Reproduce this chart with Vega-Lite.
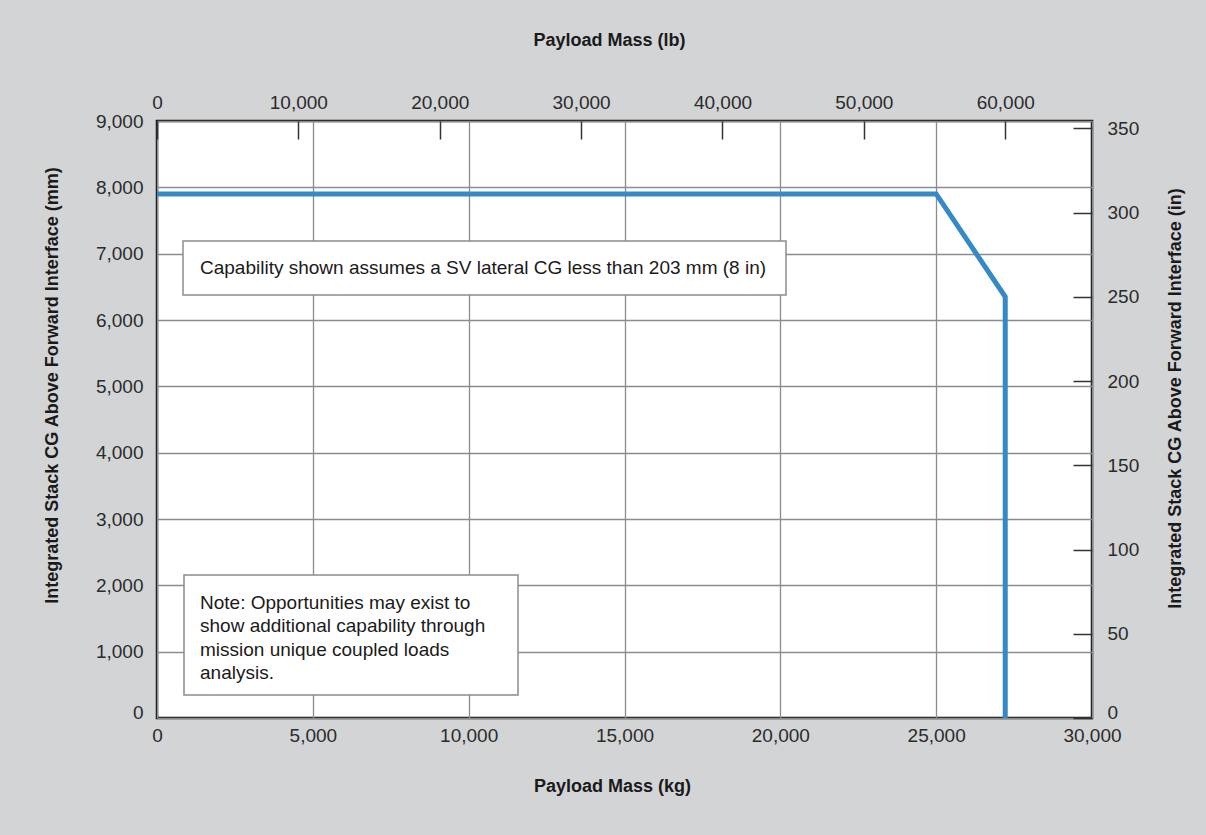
{
  "$schema": "https://vega.github.io/schema/vega-lite/v6.json",
  "width": 935,
  "height": 597,
  "autosize": {"type": "none"},
  "padding": {"left": 157, "top": 121, "right": 114, "bottom": 117},
  "background": "#d3d4d6",
  "config": {
    "font": "Liberation Sans",
    "view": {"fill": "white", "stroke": "#111111", "strokeWidth": 2.5},
    "axis": {
      "labelFontSize": 19,
      "labelColor": "#2b2b2b",
      "labelFlush": false,
      "labelOverlap": false,
      "titleFontSize": 18,
      "titleFontWeight": "bold",
      "titleColor": "#1a1a1a",
      "gridColor": "#8c8c8c",
      "gridWidth": 1.3,
      "gridOpacity": 1
    }
  },
  "datasets": {
    "limit": [
      {"kg": 0, "mm": 7900},
      {"kg": 25000, "mm": 7900},
      {"kg": 27216, "mm": 6350},
      {"kg": 27216, "mm": 0}
    ],
    "notes": [
      {"id": "lateral", "text": "Capability shown assumes a SV lateral CG less than 203 mm (8 in)"},
      {"id": "coupled", "text": "Note: Opportunities may exist to\nshow additional capability through\nmission unique coupled loads\nanalysis."}
    ]
  },
  "layer": [
    {
      "layer": [
        {
          "data": {"name": "limit"},
          "mark": {"type": "line", "color": "#3589c6", "strokeWidth": 5, "strokeJoin": "miter"},
          "encoding": {
            "x": {
              "field": "kg", "type": "quantitative",
              "scale": {"domain": [0, 30000], "nice": false},
              "axis": {
                "orient": "bottom",
                "title": "Payload Mass (kg)",
                "values": [0, 5000, 10000, 15000, 20000, 25000, 30000],
                "format": ",d",
                "grid": true,
                "ticks": false,
                "domain": false,
                "labelPadding": 8,
                "titleX": 455,
                "titleY": 73,
                "titleBaseline": "alphabetic"
              }
            },
            "y": {
              "field": "mm", "type": "quantitative",
              "scale": {"domain": [0, 9000], "nice": false},
              "axis": {
                "orient": "left",
                "title": "Integrated Stack CG Above Forward Interface (mm)",
                "values": [0, 1000, 2000, 3000, 4000, 5000, 6000, 7000, 8000, 9000],
                "format": ",d",
                "grid": true,
                "ticks": false,
                "domain": false,
                "labelPadding": 14,
                "labelBaseline": {"condition": {"test": "datum.value === 0", "value": "alphabetic"}, "value": "middle"},
                "titleAngle": -90,
                "titleX": -100,
                "titleY": 264,
                "titleBaseline": "alphabetic"
              }
            },
            "order": {"field": "kg"}
          }
        },
        {
          "data": {"name": "notes"},
          "transform": [{"filter": "datum.id === 'lateral'"}],
          "mark": {"type": "rect", "fill": "white", "stroke": "#8c8c8c", "strokeWidth": 1.5},
          "encoding": {
            "x": {"datum": 834, "type": "quantitative"},
            "x2": {"datum": 20182},
            "y": {"datum": 7191, "type": "quantitative"},
            "y2": {"datum": 6377}
          }
        },
        {
          "data": {"name": "notes"},
          "transform": [{"filter": "datum.id === 'lateral'"}],
          "mark": {"type": "text", "align": "left", "baseline": "middle", "fontSize": 19, "color": "#1a1a1a", "lineBreak": "\n"},
          "encoding": {
            "x": {"datum": 1380, "type": "quantitative"},
            "y": {"datum": 6784, "type": "quantitative"},
            "text": {"field": "text"}
          }
        },
        {
          "data": {"name": "notes"},
          "transform": [{"filter": "datum.id === 'coupled'"}],
          "mark": {"type": "rect", "fill": "white", "stroke": "#8c8c8c", "strokeWidth": 1.5},
          "encoding": {
            "x": {"datum": 866, "type": "quantitative"},
            "x2": {"datum": 11583},
            "y": {"datum": 2156, "type": "quantitative"},
            "y2": {"datum": 347}
          }
        },
        {
          "data": {"name": "notes"},
          "transform": [{"filter": "datum.id === 'coupled'"}],
          "mark": {"type": "text", "align": "left", "baseline": "middle", "fontSize": 19, "lineHeight": 23.5, "color": "#1a1a1a", "lineBreak": "\n"},
          "encoding": {
            "x": {"datum": 1380, "type": "quantitative"},
            "y": {"datum": 1734, "type": "quantitative"},
            "text": {"field": "text"}
          }
        }
      ]
    },
    {
      "data": {"values": [{"unit": "imperial"}]},
      "mark": {"type": "point", "opacity": 0},
      "encoding": {
        "x": {
          "datum": 0, "type": "quantitative",
          "scale": {"domain": [0, 66138.7], "nice": false, "zero": true},
          "axis": {
            "orient": "top",
            "title": "Payload Mass (lb)",
            "values": [0, 10000, 20000, 30000, 40000, 50000, 60000],
            "format": ",d",
            "grid": false,
            "domain": false,
            "ticks": true,
            "tickSize": -18,
            "tickColor": "#333333",
            "tickWidth": 1.5,
            "labelPadding": 27,
            "titleX": 452,
            "titleY": -76,
            "titleBaseline": "alphabetic"
          }
        },
        "y": {
          "datum": 0, "type": "quantitative",
          "scale": {"domain": [0, 354.33], "nice": false, "zero": true},
          "axis": {
            "orient": "right",
            "title": "Integrated Stack CG Above Forward Interface (in)",
            "values": [0, 50, 100, 150, 200, 250, 300, 350],
            "format": "d",
            "grid": false,
            "domain": false,
            "ticks": true,
            "tickSize": -19,
            "tickColor": "#333333",
            "tickWidth": 1.5,
            "labelPadding": 34,
            "labelAlign": "left",
            "labelBaseline": {"condition": {"test": "datum.value === 0", "value": "alphabetic"}, "value": "middle"},
            "titleAngle": -90,
            "titleX": 88,
            "titleY": 277,
            "titleBaseline": "alphabetic"
          }
        }
      }
    }
  ],
  "resolve": {"scale": {"x": "independent", "y": "independent"}}
}
